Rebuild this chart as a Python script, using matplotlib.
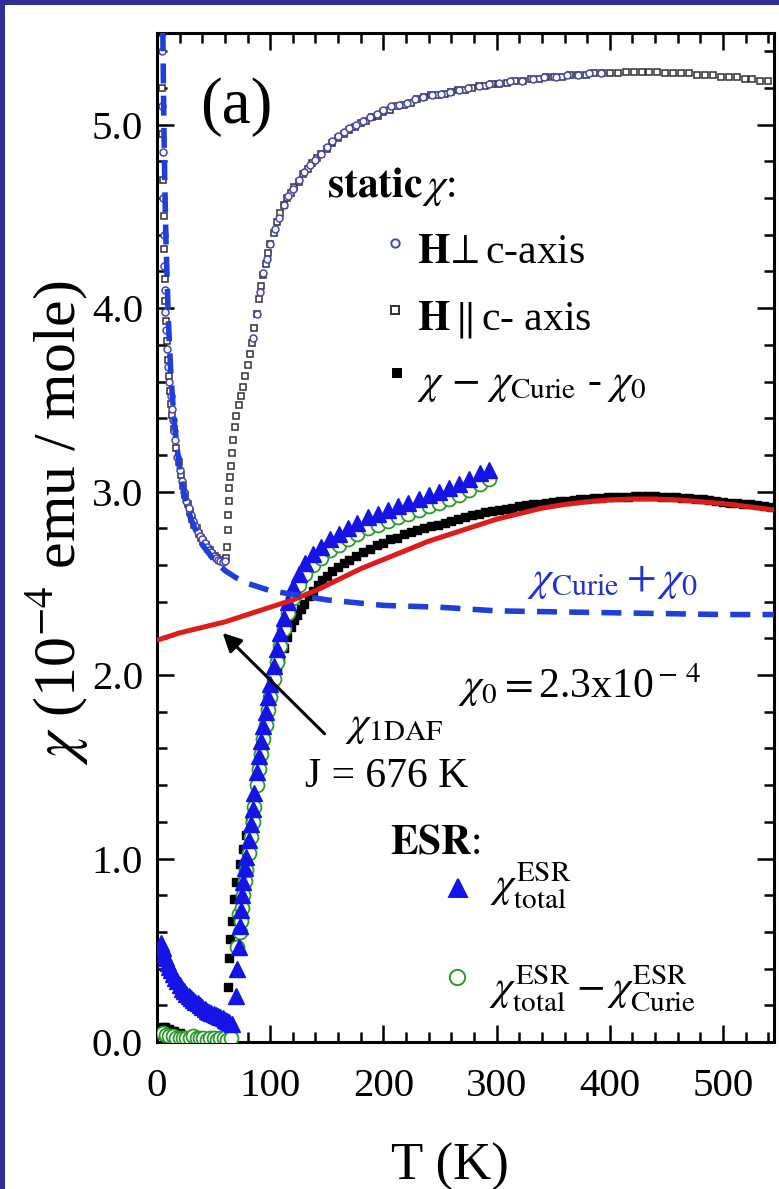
import matplotlib
matplotlib.use('Agg')
import matplotlib.pyplot as plt
from matplotlib.patches import Rectangle
from matplotlib.ticker import MultipleLocator, FormatStrFormatter
from matplotlib.lines import Line2D

plt.rcParams['font.family'] = ['Liberation Serif', 'DejaVu Serif']
plt.rcParams['mathtext.fontset'] = 'stix'

# ---------------- data ----------------
# static chi, H perpendicular c-axis (open circles)
T_perp = [2.0, 2.3, 2.6, 3.0, 3.4, 3.8, 4.2, 4.6, 5.0, 5.5, 6.0, 6.5, 7.0, 7.5, 8.0,
          9, 10, 11, 12, 13, 14, 15, 16, 18, 20, 22, 24, 26, 28, 30, 32, 34, 36, 38,
          40, 42, 44, 46, 48, 50, 52, 54, 56, 58, 60,
          85, 88, 91, 94, 97, 100, 104, 108, 112, 116, 120, 125, 130, 135, 140, 145,
          150, 155, 160, 165, 170, 176, 182, 188, 194, 200, 207, 214, 221, 228, 235,
          243, 251, 259, 267, 275, 284, 293, 302, 312, 322, 332, 342, 352, 362, 372,
          382, 392]
chi_perp = [9.5, 8.4, 7.6, 6.8, 6.2, 5.75, 5.4, 5.1, 4.85, 4.6, 4.4, 4.23, 4.1, 3.98, 3.88,
            3.78, 3.68, 3.60, 3.52, 3.45, 3.39, 3.33, 3.28, 3.19, 3.12, 3.06, 3.00, 2.95,
            2.91, 2.87, 2.84, 2.81, 2.78, 2.76, 2.74, 2.72, 2.70, 2.68, 2.67, 2.65, 2.64,
            2.63, 2.62, 2.615, 2.62,
            3.84, 3.97, 4.09, 4.19, 4.27, 4.35, 4.43, 4.49, 4.56, 4.61, 4.65, 4.70, 4.74,
            4.78, 4.81, 4.84, 4.88, 4.91, 4.94, 4.96, 4.98, 5.00, 5.02, 5.04, 5.06, 5.08,
            5.10, 5.11, 5.12, 5.14, 5.15, 5.16, 5.17, 5.18, 5.19, 5.20, 5.21, 5.22, 5.23,
            5.24, 5.24, 5.25, 5.26, 5.26, 5.27, 5.27, 5.28, 5.28]

# static chi, H parallel c-axis (open squares)
T_par = [2.1, 2.4, 2.8, 3.2, 3.6, 4.0, 4.4, 4.8, 5.3, 5.8, 6.3, 6.8, 7.3, 7.8, 8.5,
         9.5, 10.5, 11.5, 12.5, 13.5, 15, 17, 19, 21, 23, 25, 27, 29, 31, 33, 35, 37,
         39, 41, 43, 45, 47, 49, 51, 53, 55, 57, 59, 61,
         62, 62.5, 63, 63.5, 64, 64.5, 65, 66, 67, 68.5, 70, 72, 74, 76, 78, 80, 82,
         84, 86, 88, 90, 92, 94, 96, 98, 100, 103, 106, 109, 112, 115, 118, 121, 125,
         129, 133, 137, 141, 145, 150, 155, 160, 165, 170, 175, 180, 185, 190, 195,
         200, 206, 212, 218, 224, 230, 236, 242, 248, 254, 260, 266, 272, 278, 284,
         290, 296, 302, 309, 316, 323, 330, 337, 344, 351, 358, 365, 372, 379, 386,
         393, 400, 407, 414, 421, 428, 435, 442, 449, 456, 463, 470, 477, 484, 491,
         498, 505, 512, 519, 526, 533, 540]
chi_par = [9.0, 8.0, 7.0, 6.4, 5.9, 5.5, 5.2, 4.95, 4.7, 4.5, 4.32, 4.16, 4.04, 3.93, 3.82,
           3.72, 3.63, 3.55, 3.48, 3.42, 3.34, 3.24, 3.16, 3.09, 3.03, 2.98, 2.93, 2.89,
           2.85, 2.82, 2.80, 2.77, 2.75, 2.73, 2.71, 2.69, 2.68, 2.66, 2.65, 2.64, 2.63,
           2.62, 2.62, 2.64,
           2.70, 2.79, 2.87, 2.95, 3.02, 3.08, 3.14, 3.21, 3.28, 3.35, 3.41, 3.47, 3.52,
           3.57, 3.63, 3.69, 3.75, 3.81, 3.89, 3.97, 4.05, 4.12, 4.18, 4.24, 4.30, 4.35,
           4.41, 4.47, 4.52, 4.56, 4.60, 4.63, 4.66, 4.69, 4.73, 4.76, 4.79, 4.82, 4.84,
           4.87, 4.90, 4.93, 4.95, 4.97, 4.99, 5.01, 5.02, 5.04, 5.05, 5.07, 5.08, 5.10,
           5.11, 5.12, 5.14, 5.15, 5.16, 5.16, 5.17, 5.18, 5.19, 5.19, 5.20, 5.21, 5.21,
           5.22, 5.22, 5.23, 5.24, 5.24, 5.25, 5.25, 5.26, 5.26, 5.26, 5.27, 5.27, 5.27,
           5.28, 5.28, 5.28, 5.28, 5.29, 5.29, 5.29, 5.29, 5.29, 5.28, 5.28, 5.28, 5.28,
           5.27, 5.27, 5.27, 5.26, 5.26, 5.26, 5.25, 5.25, 5.24, 5.24]

# chi - chi_Curie - chi_0 (filled squares)
T_sub = [3, 5, 7, 9, 11, 13, 15, 17, 20, 40, 50, 60,
         63, 63.5, 64.5, 66, 68, 70, 73, 76, 79, 82, 85, 88, 91, 94, 97, 100, 103, 106,
         109, 112, 115, 118, 121, 124, 127, 130, 134, 138, 142, 146, 150, 155, 160, 165,
         170, 176, 182, 188, 194, 200, 206, 212, 218, 224, 230, 236, 242, 248, 254, 260,
         266, 272, 278, 284, 290, 296, 302, 308, 314, 320, 326, 332, 338, 344, 350, 356,
         362, 368, 374, 380, 386, 392, 398, 404, 410, 416, 422, 428, 434, 440, 446, 452,
         458, 464, 470, 476, 482, 488, 494, 500, 506, 512, 518, 524, 530, 536, 542]
chi_sub = [0.07, 0.08, 0.08, 0.07, 0.07, 0.06, 0.06, 0.05, 0.05, 0.02, 0.02, 0.02,
           0.30, 0.46, 0.56, 0.66, 0.78, 0.87, 0.97, 1.05, 1.13, 1.21, 1.32, 1.45, 1.58,
           1.70, 1.80, 1.88, 1.96, 2.03, 2.09, 2.15, 2.21, 2.26, 2.30, 2.33, 2.36, 2.39,
           2.43, 2.46, 2.49, 2.52, 2.54, 2.57, 2.59, 2.61, 2.63, 2.65, 2.67, 2.69, 2.71,
           2.72, 2.74, 2.75, 2.77, 2.78, 2.79, 2.80, 2.81, 2.82, 2.83, 2.84, 2.85, 2.86,
           2.87, 2.88, 2.89, 2.895, 2.90, 2.905, 2.91, 2.92, 2.925, 2.93, 2.935, 2.94,
           2.945, 2.95, 2.95, 2.955, 2.96, 2.96, 2.965, 2.965, 2.97, 2.97, 2.97, 2.97,
           2.975, 2.975, 2.975, 2.975, 2.97, 2.97, 2.97, 2.965, 2.965, 2.96, 2.96, 2.955,
           2.95, 2.945, 2.94, 2.94, 2.935, 2.93, 2.925, 2.92, 2.915]

# ESR chi_total (filled triangles)
T_tri = [3.5, 5, 6.5, 8, 9.5, 11, 12.5, 14, 16, 18, 20, 22, 24, 26, 28, 30, 32, 34, 36,
         38, 40, 42, 44, 46, 48, 50, 52, 54, 56, 58, 60, 62, 64, 66,
         70, 71, 72, 73, 74, 75, 76, 77.5, 79, 81, 83, 84.5, 86, 88, 90, 92, 94, 96, 98,
         100, 103, 106, 109, 112, 116, 120, 125, 131, 138, 145, 153, 161, 169, 177, 186,
         195, 204, 213, 222, 231, 240, 249, 258, 267, 276, 285, 293]
chi_tri = [0.54, 0.51, 0.48, 0.46, 0.43, 0.41, 0.39, 0.37, 0.35, 0.33, 0.31, 0.29, 0.28,
           0.26, 0.25, 0.24, 0.23, 0.22, 0.21, 0.20, 0.19, 0.18, 0.17, 0.165, 0.16, 0.15,
           0.145, 0.14, 0.135, 0.13, 0.12, 0.115, 0.11, 0.10,
           0.25, 0.40, 0.52, 0.63, 0.72, 0.80, 0.87, 0.95, 1.01, 1.10, 1.19, 1.27, 1.36,
           1.47, 1.56, 1.64, 1.72, 1.80, 1.88, 1.95, 2.05, 2.14, 2.23, 2.31, 2.40, 2.48,
           2.55, 2.61, 2.66, 2.70, 2.74, 2.77, 2.80, 2.83, 2.86, 2.88, 2.90, 2.92, 2.94,
           2.96, 2.98, 3.00, 3.02, 3.04, 3.07, 3.10, 3.12]

# ESR chi_total - chi_Curie (open green circles)
T_grn = [5, 8, 11, 14, 17, 20, 23, 26, 29, 32, 35, 38, 41, 44, 47, 50, 53, 56, 59, 62, 65,
         71, 72, 73, 74, 75, 76, 77.5, 79, 81, 83, 84.5, 86, 88, 90, 92, 94, 96, 98,
         100, 103, 106, 109, 112, 116, 120, 125, 131, 138, 145, 153, 161, 169, 177, 186,
         195, 204, 213, 222, 231, 240, 249, 258, 267, 276, 285, 293]
chi_grn = [0.05, 0.04, 0.03, 0.03, 0.02, 0.02, 0.02, 0.02, 0.02, 0.03, 0.02, 0.02, 0.02,
           0.01, 0.02, 0.02, 0.01, 0.02, 0.02, 0.01, 0.02,
           0.52, 0.70, 0.60, 0.66, 0.73, 0.80, 0.88, 0.94, 1.03, 1.12, 1.20, 1.28, 1.40,
           1.49, 1.57, 1.65, 1.73, 1.81, 1.88, 1.98, 2.07, 2.16, 2.25, 2.34, 2.42, 2.49,
           2.55, 2.60, 2.64, 2.68, 2.71, 2.74, 2.77, 2.80, 2.82, 2.84, 2.86, 2.88, 2.90,
           2.92, 2.94, 2.96, 2.98, 3.01, 3.04, 3.07]

# chi_1DAF (J = 676 K), red line
T_1daf = [0, 20, 40, 60, 80, 100, 120, 140, 160, 180, 200, 220, 240, 260, 280, 300, 320,
          340, 360, 380, 400, 420, 440, 460, 480, 500, 520, 545]
chi_1daf = [2.19, 2.23, 2.26, 2.29, 2.33, 2.37, 2.41, 2.46, 2.52, 2.58, 2.63, 2.68, 2.73,
            2.77, 2.81, 2.85, 2.88, 2.91, 2.93, 2.945, 2.955, 2.96, 2.96, 2.955, 2.945,
            2.935, 2.92, 2.90]

# chi_Curie + chi_0, dashed blue line
T_cur = [2.5, 3, 3.5, 4, 4.5, 5, 6, 7, 8, 10, 12, 15, 20, 25, 30, 40, 50, 60, 70, 80,
         100, 120, 150, 200, 250, 300, 400, 500, 545]
chi_cur = [8.9, 7.8, 7.0, 6.4, 5.95, 5.6, 5.03, 4.64, 4.35, 3.94, 3.67, 3.39, 3.12, 2.96,
           2.85, 2.71, 2.63, 2.57, 2.53, 2.50, 2.46, 2.44, 2.41, 2.38, 2.37, 2.35, 2.34,
           2.33, 2.33]

xticks = [0, 100, 200, 300, 400, 500]
yticks = [0.0, 1.0, 2.0, 3.0, 4.0, 5.0]

# ---------------- figure ----------------
W, H = 779, 1189
fig = plt.figure(figsize=(W / 100, H / 100), dpi=100, facecolor='#302f98')
fig.patches.append(Rectangle((5 / W, 0), 1, (H - 5) / H, transform=fig.transFigure,
                             facecolor='white', edgecolor='none', zorder=-10))
ax = fig.add_axes([157 / W, (H - 1042) / H, 617 / W, 1009 / H])
ax.set_zorder(1)

ax.plot(T_par, chi_par, ls='none', marker='s', ms=4.5, mfc='white', mec='#303030',
        mew=1.1, zorder=2)
ax.plot(T_perp, chi_perp, ls='none', marker='o', ms=5, mfc='white', mec='#4545b5',
        mew=1.1, zorder=2)
ax.plot(T_sub, chi_sub, ls='none', marker='s', ms=5.5, color='black', zorder=3)
ax.plot(T_grn, chi_grn, ls='none', marker='o', ms=10, mfc='white', mec='#2a9a2a',
        mew=1.3, zorder=4)
ax.plot(T_tri, chi_tri, ls='none', marker='^', ms=11.5, color='#1414e6', mec='#1414e6',
        zorder=5)
ax.plot(T_1daf, chi_1daf, color='#dd1c1c', lw=3.6, zorder=6, solid_capstyle='butt')
ax.plot(T_cur, chi_cur, color='#1f3fd8', lw=4, ls=(0, (3.6, 2.2)), zorder=7)

ax.set_xlim(0, 545)
ax.set_ylim(0, 5.5)
ax.set_xticks(xticks)
ax.set_yticks(yticks)
ax.xaxis.set_minor_locator(MultipleLocator(20))
ax.yaxis.set_minor_locator(MultipleLocator(0.2))
ax.yaxis.set_major_formatter(FormatStrFormatter('%.1f'))
ax.tick_params(which='both', direction='in', top=True, right=True, width=1.8,
               labelsize=29.5, colors='black')
ax.tick_params(which='major', length=12)
ax.tick_params(which='minor', length=7)
ax.tick_params(axis='x', pad=19)
ax.tick_params(axis='y', pad=10)
for s in ax.spines.values():
    s.set_linewidth(2.2)

fig.text(56 / W, 1 - 523 / H, r'$\chi$ (10$^{-4}$ emu / mole)', rotation=90,
         ha='center', va='center', fontsize=43)
fig.text(450 / W, 1 - 1167 / H, 'T (K)', ha='center', va='center', fontsize=38)

def axp(px, py):
    return ((px - 157) / 617, (1042 - py) / 1009)

tA = ax.transAxes
ax.text(*axp(200, 123), '(a)', transform=tA, fontsize=47, va='baseline')
ax.text(*axp(327, 197), r'$\mathbf{static}\,\chi$:', transform=tA, fontsize=30,
        va='baseline')
ax.text(*axp(417, 263), r'$\mathbf{H}\!\perp$c-axis', transform=tA, fontsize=30,
        va='baseline')
ax.text(*axp(417, 330), r'$\mathbf{H}\,\|\,$c- axis', transform=tA, fontsize=30,
        va='baseline')
ax.text(*axp(417, 393), r'$\chi\,-\,\chi_{\rm Curie}$ - $\chi_0$', transform=tA,
        fontsize=30, va='baseline')
ax.text(*axp(527, 590), r'$\chi_{\rm Curie}+\chi_0$', transform=tA, fontsize=31,
        va='baseline', color='#2233cc')
ax.text(*axp(458, 698), r'$\chi_0 = $2.3x10$^{\rm -\,4}$', transform=tA, fontsize=30,
        va='baseline')
ax.text(*axp(345, 735), r'$\chi_{\rm 1DAF}$', transform=tA, fontsize=30, va='baseline')
ax.text(*axp(305, 787), 'J = 676 K', transform=tA, fontsize=30, va='baseline')
ax.text(*axp(390, 853), r'$\mathbf{ESR}$:', transform=tA, fontsize=30, va='baseline')
ax.text(*axp(490, 898), r'$\chi^{\rm ESR}_{\rm total}$', transform=tA, fontsize=30,
        va='baseline')
ax.text(*axp(489, 1000), r'$\chi^{\rm ESR}_{\rm total} - \chi^{\rm ESR}_{\rm Curie}$',
        transform=tA, fontsize=30, va='baseline')

# legend symbols
for (px, py, mk, ms, fc, ec) in [(395, 243, 'o', 6, 'white', '#4545b5'),
                                 (395, 310, 's', 5.5, 'white', '#303030'),
                                 (397, 373, 's', 6, 'black', 'black'),
                                 (458, 888, '^', 13, '#1414e6', '#1414e6'),
                                 (457, 977, 'o', 11, 'white', '#2a9a2a')]:
    x, y = axp(px, py)
    ax.add_line(Line2D([x], [y], transform=tA, marker=mk, ms=ms, mfc=fc, mec=ec,
                       mew=1.4, ls='none', clip_on=False))

ax.annotate('', xy=(58, 2.23), xytext=(148, 1.68),
            arrowprops=dict(arrowstyle='-|>', lw=2.2, color='black',
                            mutation_scale=28, shrinkA=0, shrinkB=0), zorder=8)

fig.savefig('out.png', dpi=100, facecolor=fig.get_facecolor())
